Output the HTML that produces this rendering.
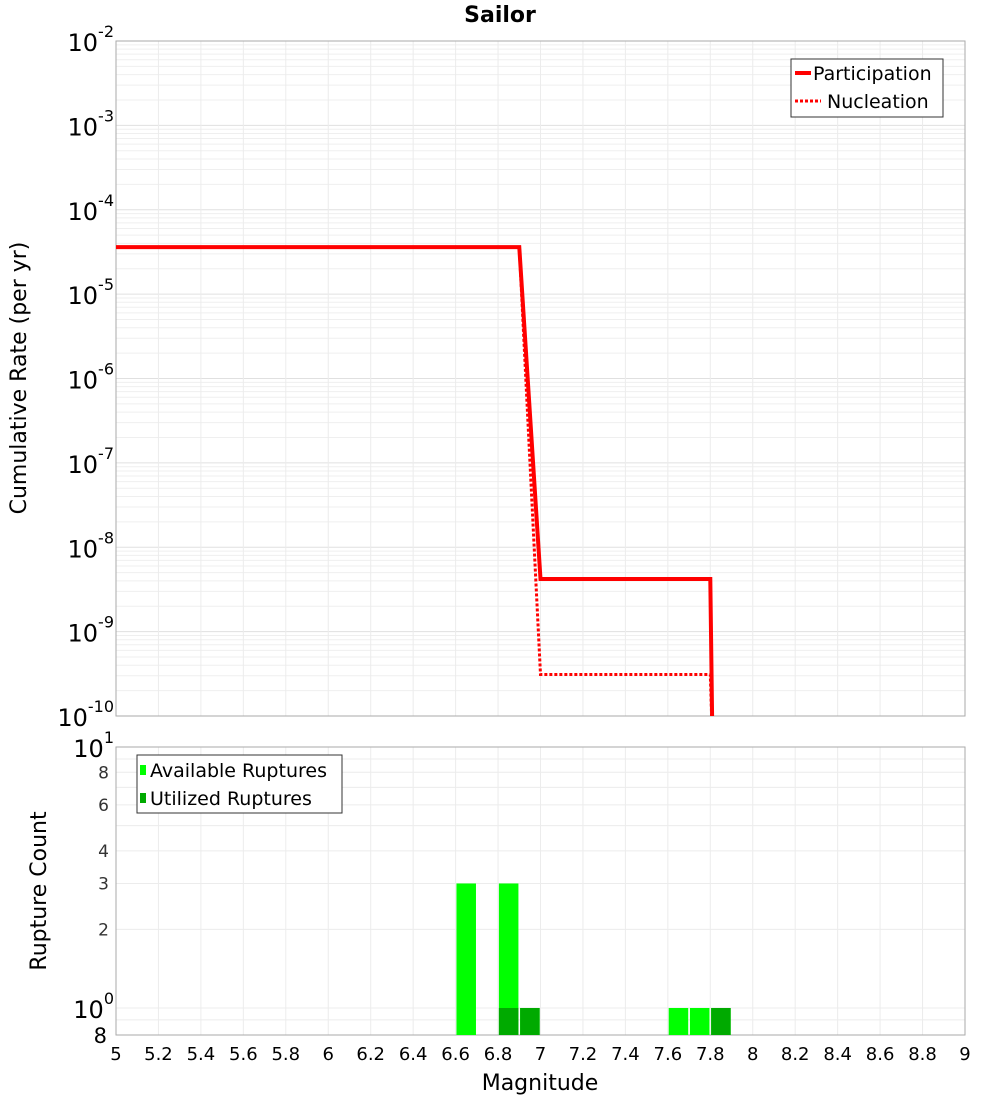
<!DOCTYPE html>
<html><head><meta charset="utf-8"><style>
body{margin:0;background:#fff;width:1000px;height:1100px;overflow:hidden}
svg{font-family:"DejaVu Sans","Liberation Sans",sans-serif}
</style></head><body>
<svg id="c" width="1000" height="1100" xmlns="http://www.w3.org/2000/svg"></svg>
<script>
const mags=[5,6.9,7.0,7.8,7.81];
const partRates=[3.6e-5,3.6e-5,4.2e-9,4.2e-9,5e-11];
const nuclRates=[3.6e-5,3.6e-5,3.1e-10,3.1e-10,5e-11];
const barMags=[6.65,6.85,6.95,7.65,7.75,7.85];
const availCounts=[3,3,1,1,1,1];
const utilCounts=[0,1,1,0,0,1];
const xTicks=[5,5.2,5.4,5.6,5.8,6,6.2,6.4,6.6,6.8,7,7.2,7.4,7.6,7.8,8,8.2,8.4,8.6,8.8,9];
const yTopExps=[-2,-3,-4,-5,-6,-7,-8,-9,-10];
const yBotTicks=[2,3,4,6,8];

const S=document.getElementById('c'),NS='http://www.w3.org/2000/svg';
function el(t,a,p){const e=document.createElementNS(NS,t);for(const k in a)e.setAttribute(k,a[k]);(p||S).appendChild(e);return e;}
const X0=116,X1=965;
const x=m=>X0+(m-5)/4*(X1-X0);
const T0=41,T1=716;
const yT=v=>T0+(-2-Math.log10(v))/8*(T1-T0);
const B0=747,B1=1035,bMin=0.788;
const yB=v=>B1-(Math.log10(v)-Math.log10(bMin))/(1-Math.log10(bMin))*(B1-B0);

for(let e=-10;e<-2;e++)for(let k=1;k<10;k++){const v=k*Math.pow(10,e);const yy=yT(v);
 const g=el('line',{x1:X0,x2:X1,y1:yy,y2:yy,stroke:k==1?'#e0e0e0':'#efefef','stroke-width':1});
 }
xTicks.forEach(t=>{const g=el('line',{x1:x(t),x2:x(t),y1:T0,y2:T1,stroke:'#ececec'});
 });
xTicks.forEach(t=>{const g=el('line',{x1:x(t),x2:x(t),y1:B0,y2:B1,stroke:'#ececec'});
 });
[0.9,1,2,3,4,5,6,7,8,9].forEach(v=>{const g=el('line',{x1:X0,x2:X1,y1:yB(v),y2:yB(v),stroke:'#ececec'});
 });

let f=el('rect',{x:X0,y:T0,width:X1-X0,height:T1-T0,fill:'none',stroke:'#aaa'});

f=el('rect',{x:X0,y:B0,width:X1-X0,height:B1-B0,fill:'none',stroke:'#aaa'});


const bw=0.092;
barMags.forEach((m,i)=>{
 const r=el('rect',{x:x(m-bw/2),y:yB(availCounts[i]),width:x(m+bw/2)-x(m-bw/2),height:B1-yB(availCounts[i]),fill:'#00ff00'});
 
 if(utilCounts[i]>0){const u=el('rect',{x:x(m-bw/2),y:yB(utilCounts[i]),width:x(m+bw/2)-x(m-bw/2),height:B1-yB(utilCounts[i]),fill:'#00aa00'});
 }
});

const cp=el('clipPath',{id:'cl'});el('rect',{x:X0,y:T0,width:X1-X0,height:T1-T0},cp);
function pts(r){return mags.map((m,i)=>x(m)+','+yT(r[i])).join(' ');}
let l=el('polyline',{points:pts(nuclRates),fill:'none',stroke:'#ff0000','stroke-width':3,'stroke-dasharray':'3,2','clip-path':'url(#cl)'});

l=el('polyline',{points:pts(partRates),fill:'none',stroke:'#ff0000','stroke-width':4,'clip-path':'url(#cl)'});


yTopExps.forEach(e=>{const t=el('text',{x:114,y:yT(Math.pow(10,e))+10,'text-anchor':'end','font-size':24});
 
 t.innerHTML='10<tspan dy="-14" font-size="16">'+e+'</tspan>';});
let t=el('text',{x:114,y:yB(10)+10,'text-anchor':'end','font-size':24});t.innerHTML='10<tspan dy="-14" font-size="16">1</tspan>';

t=el('text',{x:114,y:yB(1)+10,'text-anchor':'end','font-size':24});t.innerHTML='10<tspan dy="-14" font-size="16">0</tspan>';

t=el('text',{x:107,y:1043,'text-anchor':'end','font-size':21});t.textContent='8';

yBotTicks.forEach(v=>{const t=el('text',{x:109,y:yB(v)+6,'text-anchor':'end','font-size':17,fill:'#333'});t.textContent=v;
 });
xTicks.forEach(v=>{const t=el('text',{x:x(v),y:1060,'text-anchor':'middle','font-size':18});t.textContent=String(v);
 });

t=el('text',{x:500,y:22,'text-anchor':'middle','font-size':22,'font-weight':'bold'});t.textContent='Sailor';

t=el('text',{x:540,y:1090,'text-anchor':'middle','font-size':22});t.textContent='Magnitude';

t=el('text',{x:0,y:0,'text-anchor':'middle','font-size':22,transform:'translate(26,378) rotate(-90)'});t.textContent='Cumulative Rate (per yr)';

t=el('text',{x:0,y:0,'text-anchor':'middle','font-size':22,transform:'translate(46,891) rotate(-90)'});t.textContent='Rupture Count';


let g=el('g',{});
el('rect',{x:791,y:59,width:152,height:58,fill:'#fff',stroke:'#333'},g);
el('line',{x1:795,x2:811,y1:73,y2:73,stroke:'#f00','stroke-width':4},g);
el('line',{x1:795,x2:821,y1:101,y2:101,stroke:'#f00','stroke-width':3,'stroke-dasharray':'3,2'},g);
t=el('text',{x:813,y:80,'font-size':19},g);t.textContent='Participation';
t=el('text',{x:827,y:108,'font-size':19},g);t.textContent='Nucleation';
g=el('g',{});
el('rect',{x:137,y:755,width:205,height:58,fill:'#fff',stroke:'#333'},g);
el('rect',{x:140,y:765,width:6,height:10,fill:'#00ff00'},g);
el('rect',{x:140,y:793,width:6,height:10,fill:'#00aa00'},g);
t=el('text',{x:150,y:777,'font-size':19},g);t.textContent='Available Ruptures';
t=el('text',{x:150,y:805,'font-size':19},g);t.textContent='Utilized Ruptures';
</script>
</body></html>
